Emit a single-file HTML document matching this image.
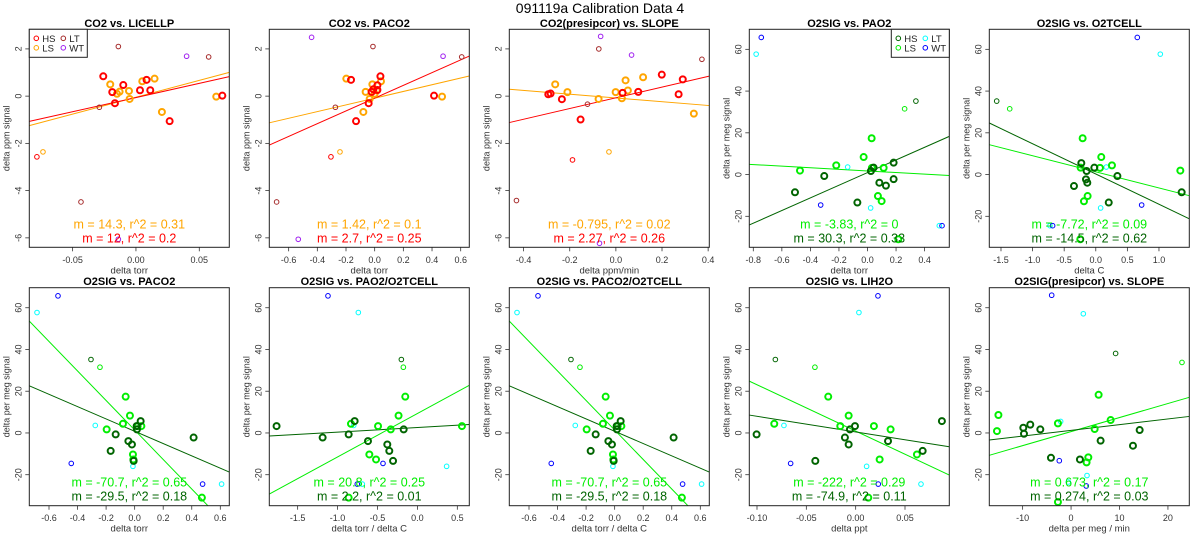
<!DOCTYPE html>
<html><head><meta charset="utf-8"><style>
html,body{margin:0;padding:0;background:#fff;}
svg{display:block;font-family:"Liberation Sans",Arial,sans-serif;}
</style></head><body>
<svg id="fig" width="1200" height="550" viewBox="0 0 1200 550" xmlns="http://www.w3.org/2000/svg">
<rect x="0" y="0" width="1200" height="550" fill="#fff"/>
<text x="600" y="13" font-size="14" text-anchor="middle" fill="#000">091119a   Calibration Data 4</text>
</svg>
<script>
// ---- Panel 1: CO2 vs LICELLP ----
const p1_hs_x=[-0.0258,-0.0100,-0.0187,-0.0166,0.0032,0.0084,0.0113,0.0266,0.0682];
const p1_hs_y=[0.84,0.47,0.17,-0.30,0.25,0.69,0.25,-1.06,0.02];
const p1_ls_x=[-0.0203,-0.0150,-0.0129,-0.0055,-0.0050,0.0050,0.0147,0.0205,0.0634];
const p1_ls_y=[0.50,0.10,0.19,0.22,-0.12,0.63,0.74,-0.67,-0.02];
const p1_sm_x=[-0.0782,-0.0734,-0.0139,-0.0289,-0.0434,0.0574,0.0400,-0.0139];
const p1_sm_y=[-2.57,-2.36,2.10,-0.47,-4.48,1.66,1.69,-6.06];
const p1_sm_g=['HS','LS','LT','LT','LT','LT','WT','WT'];
const p1_fit_m=[14.3,12]; const p1_fit_b=[-0.046,-0.06];
const p1_fit_r2=[0.31,0.2];
// ---- Panel 2: CO2 vs PACO2 ----
const p2_hs_x=[-0.165,-0.130,-0.042,-0.021,-0.009,0.019,0.040,0.414,0.019];
const p2_hs_y=[0.69,-1.06,-0.30,0.18,0.29,0.46,0.84,0.02,0.26];
const p2_ls_x=[-0.198,-0.079,-0.063,-0.035,-0.016,0.000,0.014,0.044,0.470];
const p2_ls_y=[0.74,-0.67,0.18,-0.12,0.50,0.10,0.24,0.63,-0.02];
const p2_sm_x=[-0.305,-0.242,-0.012,-0.274,-0.684,0.607,-0.440,0.477,-0.533];
const p2_sm_y=[-2.57,-2.36,2.10,-0.47,-4.48,1.66,2.49,1.69,-6.06];
const p2_sm_g=['HS','LS','LT','LT','LT','LT','WT','WT','WT'];
const p2_fit_m=[1.42,2.7]; const p2_fit_b=[-0.086,-0.085];
const p2_fit_r2=[0.1,0.25];
// ---- Panel 3: CO2(presipcor) vs SLOPE ----
const p3_hs_x=[-0.293,-0.283,-0.234,-0.153,0.029,0.097,0.199,0.272,0.290];
const p3_hs_y=[0.08,0.11,-0.13,-0.99,0.14,0.18,0.91,0.08,0.71];
const p3_ls_x=[-0.263,-0.210,-0.075,-0.001,0.026,0.042,0.052,0.118,0.338];
const p3_ls_y=[0.50,0.17,-0.12,0.17,-0.09,0.67,0.24,0.80,-0.74];
const p3_sm_x=[-0.188,-0.030,-0.074,-0.123,-0.431,0.373,-0.066,0.068,-0.071];
const p3_sm_y=[-2.70,-2.36,2.0,-0.34,-4.42,1.56,2.53,1.74,-6.23];
const p3_sm_g=['HS','LS','LT','LT','LT','LT','WT','WT','WT'];
const p3_fit_m=[-0.795,2.27]; const p3_fit_b=[-0.077,-0.07];
const p3_fit_r2=[0.02,0.26];
// ---- Panel 4: O2SIG vs PAO2 ----
const p4_hs_x=[-0.508,-0.303,-0.071,0.024,0.043,0.083,0.129,0.183,0.183];
const p4_hs_y=[-8.5,-0.7,-13.4,1.7,3.3,-3.9,-5.3,-2.2,5.7];
const p4_ls_x=[-0.473,-0.219,-0.027,0.029,0.031,0.113,0.073,0.099,0.216];
const p4_ls_y=[1.9,4.4,8.4,17.4,3.2,3.2,-10.3,-12.7,-31.0];
const p4_sm_x=[0.339,0.260,-0.780,-0.139,0.022,0.503,-0.744,-0.328,0.522];
const p4_sm_y=[35.2,31.5,57.7,3.6,-16.0,-24.5,65.7,-14.6,-24.5];
const p4_sm_g=['HS','LS','LT','LT','LT','LT','WT','WT','WT'];
const p4_fit_m=[-3.83,30.3]; const p4_fit_b=[1.73,0.94];
const p4_fit_r2=[0,0.33];
// ---- Panel 5: O2SIG vs O2TCELL ----
const p5_hs_x=[-0.345,-0.229,-0.155,-0.145,-0.134,-0.023,0.205,0.342,1.359];
const p5_hs_y=[-5.5,5.5,-2.3,1.7,-3.9,3.3,-13.4,-0.7,-8.5];
const p5_ls_x=[-0.208,-0.240,-0.187,-0.129,0.066,0.087,0.256,1.338,-0.245];
const p5_ls_y=[17.4,3.3,-12.8,-10.3,3.2,8.4,4.4,1.9,-31.0];
const p5_sm_x=[-1.568,-1.362,1.021,0.167,0.077,-0.725,0.657,0.726,-0.683];
const p5_sm_y=[35.2,31.5,57.7,3.6,-16.0,-24.5,65.7,-14.6,-24.5];
const p5_sm_g=['HS','LS','LT','LT','LT','LT','WT','WT','WT'];
const p5_fit_m=[-7.72,-14.5]; const p5_fit_b=[1.3,0.27];
const p5_fit_r2=[0.09,0.62];
// ---- Panel 6 & 8: O2SIG vs PACO2 (and PACO2/O2TCELL) ----
const p6_hs_x=[-0.168,-0.133,-0.044,-0.019,-0.007,0.016,0.042,0.413,0.014];
const p6_hs_y=[-8.6,-0.7,-3.9,-5.5,-13.4,1.7,5.7,-2.2,3.3];
const p6_ls_x=[-0.196,-0.082,-0.063,-0.033,-0.012,-0.009,0.021,0.047,0.471];
const p6_ls_y=[1.7,4.4,17.4,8.3,-10.3,-12.7,3.3,3.3,-31.0];
const p6_sm_x=[-0.306,-0.243,-0.684,-0.276,-0.012,0.609,-0.537,-0.444,0.476];
const p6_sm_y=[35.2,31.5,57.7,3.6,-16.0,-24.5,65.7,-14.6,-24.5];
const p6_sm_g=['HS','LS','LT','LT','LT','LT','WT','WT','WT'];
const p6_fit_m=[-70.7,-29.5]; const p6_fit_b=[1.42,0.83];
const p6_fit_r2=[0.65,0.18];
// ---- Panel 7: O2SIG vs PAO2/O2TCELL ----
const p7_hs_x=[-1.764,-1.187,-0.861,-0.786,-0.619,-0.377,-0.352,-0.305,-0.172];
const p7_hs_y=[3.3,-2.2,-0.7,5.7,-3.9,-5.5,-8.6,-13.4,1.7];
const p7_ls_x=[-0.832,-0.861,-0.602,-0.518,-0.493,-0.334,-0.236,-0.152,0.558];
const p7_ls_y=[4.4,-31.0,-10.3,-12.7,3.3,1.7,8.3,17.4,3.3];
const p7_sm_x=[-0.201,-0.176,-0.740,-0.798,0.366,-0.690,-1.120,-0.431,-0.753];
const p7_sm_y=[35.2,31.5,57.7,3.6,-16.0,-24.5,65.7,-14.6,-24.5];
const p7_sm_g=['HS','LS','LT','LT','LT','LT','WT','WT','WT'];
const p7_fit_m=[20.8,2.2]; const p7_fit_b=[9.3,2.6];
const p7_fit_r2=[0.25,0.01];
// ---- Panel 9: O2SIG vs LIH2O ----
const p9_hs_x=[-0.1004,-0.0409,-0.0109,-0.0071,-0.0058,-0.0007,0.0328,0.0679,0.0874];
const p9_hs_y=[-0.7,-13.4,-2.2,-5.5,1.7,3.3,-3.9,-8.6,5.7];
const p9_ls_x=[-0.0825,-0.0278,-0.0156,-0.0071,0.0128,0.0185,0.0243,0.0354,0.0621];
const p9_ls_y=[4.4,17.4,3.3,8.3,-31.0,3.3,-12.7,1.7,-10.3];
const p9_sm_x=[-0.0814,-0.0413,0.0033,-0.0727,0.0111,0.0662,0.0226,-0.0659,0.0229];
const p9_sm_y=[35.2,31.5,57.7,3.6,-16.0,-24.5,65.7,-14.6,-24.5];
const p9_sm_g=['HS','LS','LT','LT','LT','LT','WT','WT','WT'];
const p9_fit_m=[-222,-74.9]; const p9_fit_b=[0.9,0.5];
const p9_fit_r2=[0.29,0.11];
// ---- Panel 10: O2SIG(presipcor) vs SLOPE ----
const p10_hs_x=[-9.86,-9.72,-8.42,-6.35,-4.15,1.83,6.1,12.78,14.16];
const p10_hs_y=[2.5,-0.4,4.0,1.7,-11.9,-12.7,-3.7,-6.1,1.4];
const p10_ls_x=[-15.3,-15.0,-2.71,-2.71,3.2,3.56,4.87,5.69,8.17];
const p10_ls_y=[0.9,8.6,4.6,-33.1,-14.1,-11.7,1.9,18.3,6.2];
const p10_sm_x=[9.2,22.9,2.53,-2.15,3.29,-0.57,-4.0,-2.43,3.14];
const p10_sm_y=[38.1,33.8,57.1,5.5,-20.4,-23.5,66.0,-13.3,-25.4];
const p10_sm_g=['HS','LS','LT','LT','LT','LT','WT','WT','WT'];
const p10_fit_m=[0.673,0.274]; const p10_fit_b=[0.66,1.23];
const p10_fit_r2=[0.17,0.03];

const NS='http://www.w3.org/2000/svg';
const svg=document.getElementById('fig');
const CO2COL={HS:'#ff0000',LS:'#ffa500',LT:'#a52a2a',WT:'#a020f0'};
const O2COL={HS:'#006400',LS:'#00ee00',LT:'#00ffff',WT:'#0000ff'};
function mk(tag,attrs,parent){const e=document.createElementNS(NS,tag);for(const k in attrs)e.setAttribute(k,attrs[k]);(parent||svg).appendChild(e);return e;}
function fmt(v,d){return v.toFixed(d);}

const panels=[
 {t:'CO2 vs. LICELLP',xl:'delta torr',yl:'delta ppm signal',xlim:[-0.0842,0.0737],ylim:[-6.40,2.83],xt:[-0.05,0,0.05],xd:2,yt:[-6,-4,-2,0,2],co2:true,hx:p1_hs_x,hy:p1_hs_y,lx:p1_ls_x,ly:p1_ls_y,sx:p1_sm_x,sy:p1_sm_y,sg:p1_sm_g,m:p1_fit_m,b:p1_fit_b,r:p1_fit_r2,leg:'left'},
 {t:'CO2 vs. PACO2',xl:'delta torr',yl:'delta ppm signal',xlim:[-0.735,0.660],ylim:[-6.40,2.83],xt:[-0.6,-0.4,-0.2,0,0.2,0.4,0.6],xd:1,yt:[-6,-4,-2,0,2],co2:true,hx:p2_hs_x,hy:p2_hs_y,lx:p2_ls_x,ly:p2_ls_y,sx:p2_sm_x,sy:p2_sm_y,sg:p2_sm_g,m:p2_fit_m,b:p2_fit_b,r:p2_fit_r2},
 {t:'CO2(presipcor) vs. SLOPE',xl:'delta ppm/min',yl:'delta ppm signal',xlim:[-0.462,0.405],ylim:[-6.40,2.83],xt:[-0.4,-0.2,0,0.2,0.4],xd:1,yt:[-6,-4,-2,0,2],co2:true,hx:p3_hs_x,hy:p3_hs_y,lx:p3_ls_x,ly:p3_ls_y,sx:p3_sm_x,sy:p3_sm_y,sg:p3_sm_g,m:p3_fit_m,b:p3_fit_b,r:p3_fit_r2},
 {t:'O2SIG vs. PAO2',xl:'delta torr',yl:'delta per meg signal',xlim:[-0.828,0.573],ylim:[-34.85,69.6],xt:[-0.8,-0.6,-0.4,-0.2,0,0.2,0.4],xd:1,yt:[-20,0,20,40,60],co2:false,hx:p4_hs_x,hy:p4_hs_y,lx:p4_ls_x,ly:p4_ls_y,sx:p4_sm_x,sy:p4_sm_y,sg:p4_sm_g,m:p4_fit_m,b:p4_fit_b,r:p4_fit_r2,leg:'right'},
 {t:'O2SIG vs. O2TCELL',xl:'delta C',yl:'delta per meg signal',xlim:[-1.685,1.48],ylim:[-34.85,69.6],xt:[-1.5,-1,-0.5,0,0.5,1],xd:1,yt:[-20,0,20,40,60],co2:false,hx:p5_hs_x,hy:p5_hs_y,lx:p5_ls_x,ly:p5_ls_y,sx:p5_sm_x,sy:p5_sm_y,sg:p5_sm_g,m:p5_fit_m,b:p5_fit_b,r:p5_fit_r2},
 {t:'O2SIG vs. PACO2',xl:'delta torr',yl:'delta per meg signal',xlim:[-0.738,0.663],ylim:[-34.85,69.6],xt:[-0.6,-0.4,-0.2,0,0.2,0.4,0.6],xd:1,yt:[-20,0,20,40,60],co2:false,hx:p6_hs_x,hy:p6_hs_y,lx:p6_ls_x,ly:p6_ls_y,sx:p6_sm_x,sy:p6_sm_y,sg:p6_sm_g,m:p6_fit_m,b:p6_fit_b,r:p6_fit_r2},
 {t:'O2SIG vs. PAO2/O2TCELL',xl:'delta torr / delta C',yl:'delta per meg signal',xlim:[-1.855,0.650],ylim:[-34.85,69.6],xt:[-1.5,-1,-0.5,0,0.5],xd:1,yt:[-20,0,20,40,60],co2:false,hx:p7_hs_x,hy:p7_hs_y,lx:p7_ls_x,ly:p7_ls_y,sx:p7_sm_x,sy:p7_sm_y,sg:p7_sm_g,m:p7_fit_m,b:p7_fit_b,r:p7_fit_r2},
 {t:'O2SIG vs. PACO2/O2TCELL',xl:'delta torr / delta C',yl:'delta per meg signal',xlim:[-0.738,0.663],ylim:[-34.85,69.6],xt:[-0.6,-0.4,-0.2,0,0.2,0.4,0.6],xd:1,yt:[-20,0,20,40,60],co2:false,hx:p6_hs_x,hy:p6_hs_y,lx:p6_ls_x,ly:p6_ls_y,sx:p6_sm_x,sy:p6_sm_y,sg:p6_sm_g,m:p6_fit_m,b:p6_fit_b,r:p6_fit_r2},
 {t:'O2SIG vs. LIH2O',xl:'delta ppt',yl:'delta per meg signal',xlim:[-0.1078,0.0949],ylim:[-34.85,69.6],xt:[-0.10,-0.05,0,0.05],xd:2,yt:[-20,0,20,40,60],co2:false,hx:p9_hs_x,hy:p9_hs_y,lx:p9_ls_x,ly:p9_ls_y,sx:p9_sm_x,sy:p9_sm_y,sg:p9_sm_g,m:p9_fit_m,b:p9_fit_b,r:p9_fit_r2},
 {t:'O2SIG(presipcor) vs. SLOPE',xl:'delta per meg / min',yl:'delta per meg signal',xlim:[-16.88,24.41],ylim:[-34.85,69.6],xt:[-10,0,10,20],xd:0,yt:[-20,0,20,40,60],co2:false,hx:p10_hs_x,hy:p10_hs_y,lx:p10_ls_x,ly:p10_ls_y,sx:p10_sm_x,sy:p10_sm_y,sg:p10_sm_g,m:p10_fit_m,b:p10_fit_b,r:p10_fit_r2}
];

panels.forEach((P,i)=>{
 const col=i%5,row=Math.floor(i/5);
 const L=29.3+240*col,T=29.3+258.4*row,W=200,H=218;
 const X=x=>L+(x-P.xlim[0])/(P.xlim[1]-P.xlim[0])*W;
 const Y=y=>T+(P.ylim[1]-y)/(P.ylim[1]-P.ylim[0])*H;
 const C=P.co2?CO2COL:O2COL;
 const g=mk('g',{});
 
 
 const cp=mk('clipPath',{id:'clip'+i},g);
 mk('rect',{x:L,y:T,width:W,height:H},cp);
 const tt=mk('text',{x:L+W/2,y:T-2.5,'font-size':11,'font-weight':'bold','text-anchor':'middle',fill:'#000'},g);
 tt.textContent=P.t;
 
 
 P.xt.forEach(v=>{
  const xx=X(v);
  const tk=mk('line',{x1:xx,x2:xx,y1:T+H,y2:T+H+4,stroke:'#333','stroke-width':0.8},g);
  
  
  const tl=mk('text',{x:xx,y:T+H+15.5,'font-size':9,'text-anchor':'middle',fill:'#333'},g);
  tl.textContent=fmt(v,P.xd);
  
  
 });
 P.yt.forEach(v=>{
  const yy=Y(v);
  const tk=mk('line',{x1:L-4,x2:L,y1:yy,y2:yy,stroke:'#333','stroke-width':0.8},g);
  
  
  const tl=mk('text',{x:0,y:0,'font-size':9,'text-anchor':'middle',fill:'#333',transform:`translate(${L-8},${yy}) rotate(-90)`},g);
  tl.textContent=String(v);
  
  
 });
 const xl=mk('text',{x:L+W/2,y:T+H+26,'font-size':9.5,'text-anchor':'middle',fill:'#333'},g);
 xl.textContent=P.xl;
 
 
 const yl=mk('text',{x:0,y:0,'font-size':9,'text-anchor':'middle',fill:'#333',transform:`translate(${L-20},${T+H/2}) rotate(-90)`},g);
 yl.textContent=P.yl;
 
 
 const lineCols=[C.LS,C.HS];
 [0,1].forEach(k=>{
  const x0=P.xlim[0],x1=P.xlim[1];
  const ln=mk('line',{x1:X(x0),y1:Y(P.m[k]*x0+P.b[k]),x2:X(x1),y2:Y(P.m[k]*x1+P.b[k]),stroke:lineCols[k],'stroke-width':1,'clip-path':`url(#clip${i})`},g);
  
  
 });
 P.sx.forEach((v,j)=>{
  const c=mk('circle',{cx:X(v),cy:Y(P.sy[j]),r:2.3,fill:'none',stroke:C[P.sg[j]],'stroke-width':1},g);
  
  
 });
 P.lx.forEach((v,j)=>{
  const c=mk('circle',{cx:X(v),cy:Y(P.ly[j]),r:3,fill:'none',stroke:C.LS,'stroke-width':2},g);
  
  
 });
 P.hx.forEach((v,j)=>{
  const c=mk('circle',{cx:X(v),cy:Y(P.hy[j]),r:3,fill:'none',stroke:C.HS,'stroke-width':2},g);
  
  
 });
 [0,1].forEach(k=>{
  const a=mk('text',{x:L+W/2,y:T+H-19+k*14,'font-size':12.5,'text-anchor':'middle',fill:lineCols[k]},g);
  a.textContent=`m = ${P.m[k]}, r^2 = ${P.r[k]}`;
  
  
 });
 const box=mk('rect',{x:L,y:T,width:W,height:H,fill:'none',stroke:'#222','stroke-width':1},g);
 
 
 if(P.leg){
  const lw=58,lh=28;
  const lx=P.leg==='left'?L:L+W-lw;
  const lg=mk('g',{},g);
  
  
  mk('rect',{x:lx,y:T,width:lw,height:lh,fill:'#fff',stroke:'#222','stroke-width':1},lg);
  [['HS',0,0],['LS',0,1],['LT',1,0],['WT',1,1]].forEach(([n,cx,cy])=>{
   const ex=lx+7+cx*27, ey=T+9+cy*9.5;
   const it=mk('g',{},lg);
   
   
   mk('circle',{cx:ex,cy:ey,r:2.3,fill:'none',stroke:C[n],'stroke-width':1},it);
   const tx=mk('text',{x:ex+6,y:ey+3.5,'font-size':9.5,fill:'#222'},it);
   tx.textContent=n;
  });
 }
});
</script>
</body></html>
